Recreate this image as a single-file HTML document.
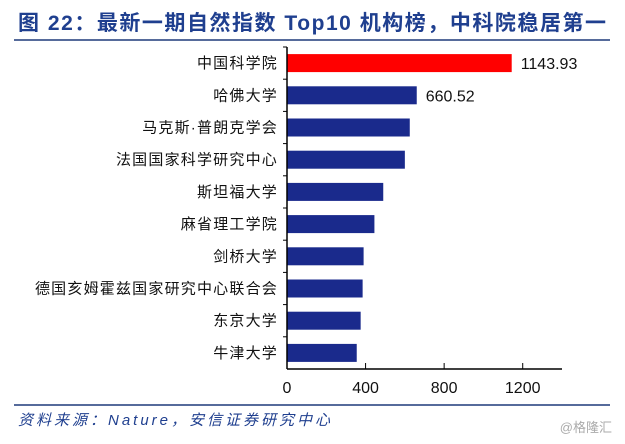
<!DOCTYPE html>
<html><head><meta charset="utf-8"><style>
body{margin:0;width:625px;height:439px;background:#fff;overflow:hidden;font-family:"Liberation Sans","Noto Sans CJK SC",sans-serif;}
</style></head><body>
<svg width="625" height="439">
<text x="18" y="30" font-size="21" font-weight="bold" fill="#1f3f8f" textLength="588" lengthAdjust="spacing" font-family="Liberation Sans, Noto Sans CJK SC, sans-serif">图 22：最新一期自然指数 Top10 机构榜，中科院稳居第一</text>
<line x1="14" y1="40" x2="610" y2="40" stroke="#1f3a7a" stroke-width="1.5"/>
<line x1="14" y1="405" x2="610" y2="405" stroke="#1f3a7a" stroke-width="1.5"/>
<text x="18" y="425" font-size="15" font-style="italic" fill="#1f3f8f" textLength="312" lengthAdjust="spacing">资料来源：Nature，安信证券研究中心</text>
<text x="612" y="432" font-size="13" fill="#aaa" text-anchor="end">@格隆汇</text>
<g id="plot"></g>
</svg>
<script>
const categories=["中国科学院","哈佛大学","马克斯·普朗克学会","法国国家科学研究中心","斯坦福大学","麻省理工学院","剑桥大学","德国亥姆霍兹国家研究中心联合会","东京大学","牛津大学"];
const values=[1143.93,660.52,625,600,490,445,390,385,375,355];
const valueLabels=["1143.93","660.52","","","","","","","",""];
const ticks=[0,400,800,1200];
const NS="http://www.w3.org/2000/svg";
const g=document.getElementById('plot');
const x0=287,xMax=1400,x1=562,yTop=47,yBot=369;
const xs=v=>x0+(x1-x0)*v/xMax;
const band=(yBot-yTop)/categories.length;
function mk(t,a){const e=document.createElementNS(NS,t);for(const k in a)e.setAttribute(k,a[k]);g.appendChild(e);return e;}
categories.forEach((c,i)=>{
 const cy=yTop+band*(i+0.5);
 const r=mk('rect',{x:x0,y:cy-9,width:xs(values[i])-x0,height:18,fill:i===0?'#ff0000':'#1a2a8c'});
 
 
 const t=mk('text',{x:x0-9,y:cy+5,'font-size':15,'letter-spacing':1.2,'text-anchor':'end',fill:'#111'});t.textContent=c;
 
 
 const tk=mk('line',{x1:x0-4,x2:x0,y1:yTop+band*i,y2:yTop+band*i,stroke:'#000'});
 
 
 if(valueLabels[i]){const v=mk('text',{x:xs(values[i])+9,y:cy+6,'font-size':16,fill:'#111'});v.textContent=valueLabels[i];
 
 }
});
const ya=mk('line',{x1:x0,x2:x0,y1:yTop,y2:yBot,stroke:'#000','stroke-width':1.5});


const xa=mk('line',{x1:x0,x2:x1,y1:yBot,y2:yBot,stroke:'#000','stroke-width':1.5});


ticks.forEach(v=>{
 const l=mk('line',{x1:xs(v),x2:xs(v),y1:yBot-6,y2:yBot,stroke:'#000'});
 
 
 const t=mk('text',{x:xs(v),y:yBot+24,'font-size':16,'text-anchor':'middle',fill:'#111'});t.textContent=v;
 
 
});
</script>
</body></html>
